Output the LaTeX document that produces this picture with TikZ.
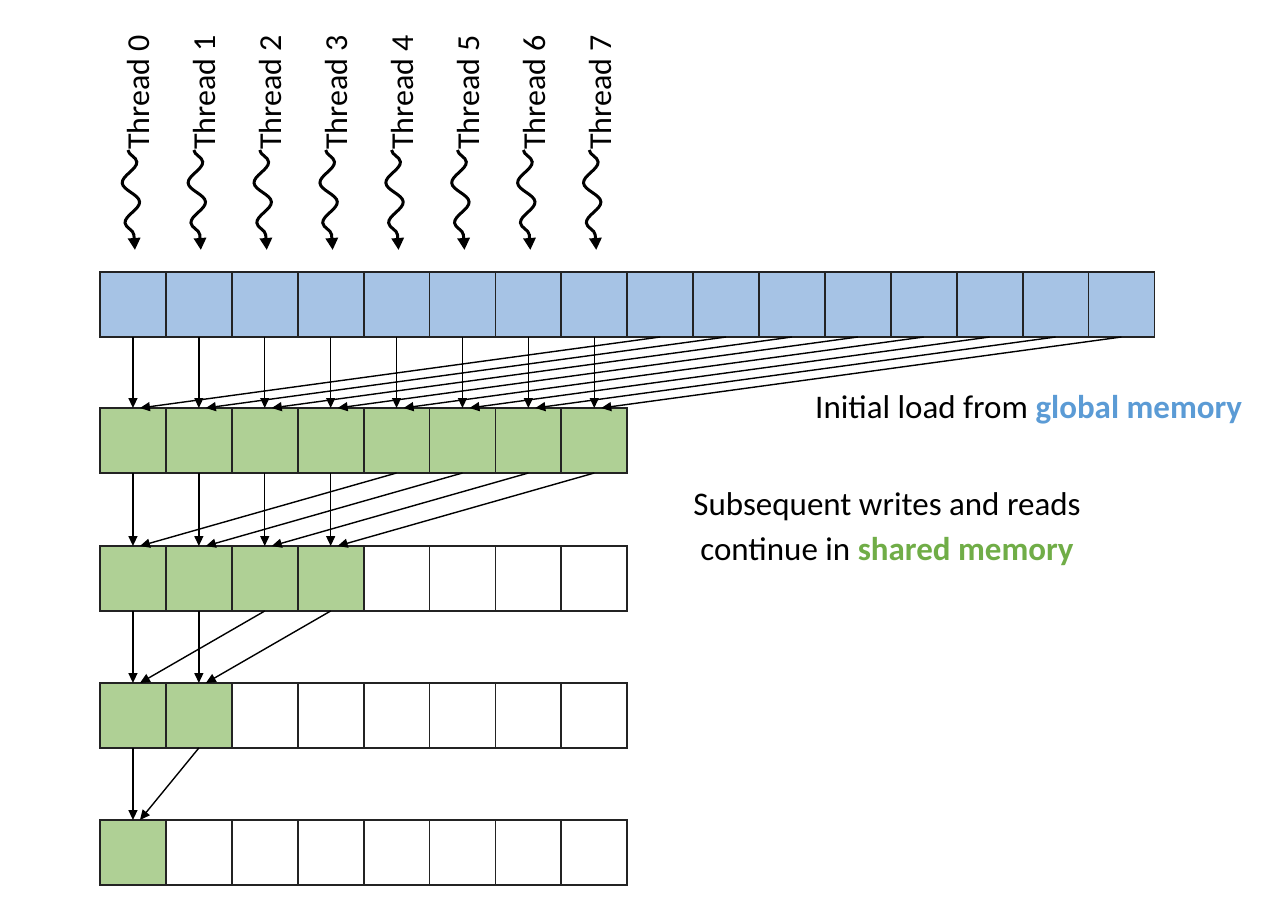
\documentclass[tikz,border=0pt]{standalone}
\usepackage{fontspec}
\setmainfont{Carlito}
\usetikzlibrary{decorations.pathmorphing,arrows.meta}
\definecolor{gblue}{RGB}{166,195,229}
\definecolor{ggreen}{RGB}{175,208,149}
\definecolor{tblue}{RGB}{91,155,213}
\definecolor{tgreen}{RGB}{112,173,71}
\definecolor{edge}{RGB}{35,35,35}
\begin{document}
\begin{tikzpicture}[x=1pt,y=-1pt,
  cell/.style={draw=edge,line width=1.8pt,minimum width=65.9pt,minimum height=65pt,outer sep=0pt,inner sep=0pt},
  bluecell/.style={cell,fill=gblue},
  greencell/.style={cell,fill=ggreen},
  emptycell/.style={cell,fill=white},
  arr/.style={draw=black,line width=1.4pt,-{Triangle[length=10pt,width=9pt]}},
  wave/.style={draw=black,line width=3pt,decorate,decoration={snake,amplitude=8pt,segment length=40pt,post length=10pt},-{Triangle[length=12pt,width=12pt]}},
  threadlbl/.style={rotate=90,anchor=west,inner sep=0pt,font=\fontsize{32}{36}\selectfont},
  note/.style={font=\fontsize{33}{45}\selectfont,inner sep=0pt}
]
\useasboundingbox (0,0) rectangle (1262,910);
% global memory row
\foreach \i in {0,...,15}
  \node[bluecell] (g\i) at ({100+65.9*(\i+0.5)},304.5) {};
% shared rows
\foreach \i in {0,...,7}
  \node[greencell] (a\i) at ({100+65.9*(\i+0.5)},440.5) {};
\foreach \i in {0,...,7}{
  \ifnum\i<4 \node[greencell] (b\i) at ({100+65.9*(\i+0.5)},578.5) {};
  \else \node[emptycell] (b\i) at ({100+65.9*(\i+0.5)},578.5) {};\fi}
\foreach \i in {0,...,7}{
  \ifnum\i<2 \node[greencell] (c\i) at ({100+65.9*(\i+0.5)},715.5) {};
  \else \node[emptycell] (c\i) at ({100+65.9*(\i+0.5)},715.5) {};\fi}
\foreach \i in {0,...,7}{
  \ifnum\i<1 \node[greencell] (d\i) at ({100+65.9*(\i+0.5)},852.5) {};
  \else \node[emptycell] (d\i) at ({100+65.9*(\i+0.5)},852.5) {};\fi}
% threads
\foreach \i in {0,...,7}{
  \node[threadlbl] (t\i) at ({100+65.9*(\i+0.5)+6},150) {Thread \i};
  \coordinate (w\i) at ({100+65.9*(\i+0.5)-5},150);
  \draw[wave] (w\i) -- ([xshift=2pt,yshift=22pt]g\i.north);
}
% global -> shared
\foreach \i [evaluate=\i as \j using int(\i+8)] in {0,...,7}{
  \draw[arr] (g\i.south) -- (a\i.north);
  \draw[arr] (g\j.south) -- ([xshift=7pt]a\i.north);
}
\foreach \i [evaluate=\i as \j using int(\i+4)] in {0,...,3}{
  \draw[arr] (a\i.south) -- (b\i.north);
  \draw[arr] (a\j.south) -- ([xshift=7pt]b\i.north);
}
\foreach \i [evaluate=\i as \j using int(\i+2)] in {0,...,1}{
  \draw[arr] (b\i.south) -- (c\i.north);
  \draw[arr] (b\j.south) -- ([xshift=7pt]c\i.north);
}
\draw[arr] (c0.south) -- (d0.north);
\draw[arr] (c1.south) -- ([xshift=7pt]d0.north);
% notes
\node[note,anchor=west] (n1) at (815,410) {Initial load from \textcolor{tblue}{\textbf{global memory}}};
\node[note,align=center] (n2) at (887,529) {Subsequent writes and reads\\continue in \textcolor{tgreen}{\textbf{shared memory}}};
\end{tikzpicture}
\end{document}
